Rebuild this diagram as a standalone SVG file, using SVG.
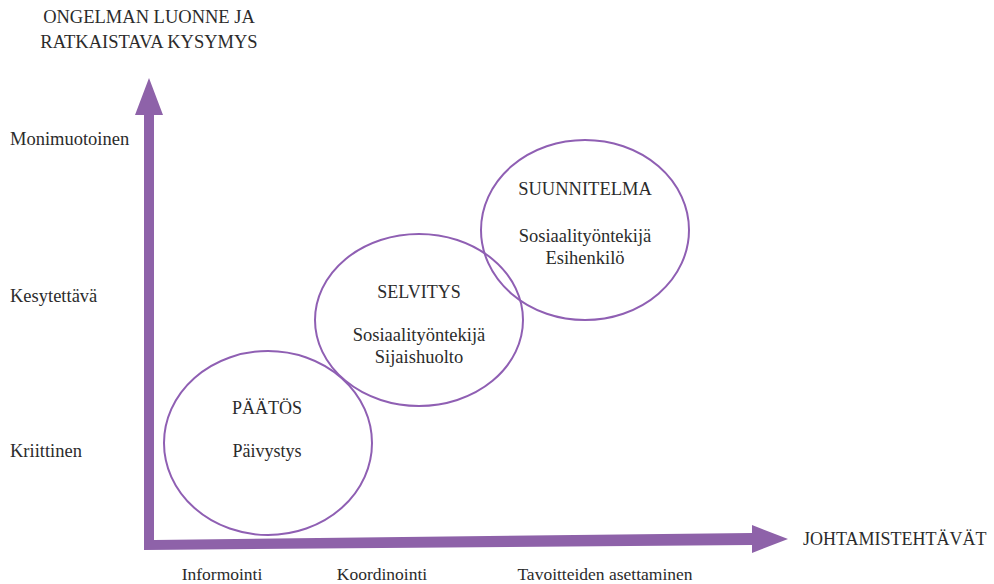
<svg xmlns="http://www.w3.org/2000/svg" width="994" height="584" viewBox="0 0 994 584">
<style>
.c{text-anchor:middle;}
.ell{fill:none;stroke:#8f5fb3;stroke-width:2;}
.ax{fill:#8e62a9;}
.s{font-family:"Liberation Serif","DejaVu Serif","Noto Serif",serif;fill:#2b2b2b;}
</style>
<rect width="994" height="584" fill="#fff"/>
<g id="axes">
<polygon class="ax" points="144,550 144,115 135,115 149,78 163,115 154,115 154,540 752,533 752,525 788,539 752,553 752,545 144,550"/>
</g>
<g class="s">
<g id="title" font-size="18.5">
<text class="c" x="149" y="23">ONGELMAN LUONNE JA</text>
<text class="c" x="149" y="48">RATKAISTAVA KYSYMYS</text>
</g>
<g id="ylabels" font-size="18.5">
<text x="10" y="145">Monimuotoinen</text>
<text x="10" y="302">Kesytettävä</text>
<text x="10" y="457">Kriittinen</text>
</g>
<g id="xlabels" font-size="17.5">
<text class="c" x="222" y="580">Informointi</text>
<text class="c" x="382" y="580">Koordinointi</text>
<text class="c" x="605" y="580">Tavoitteiden asettaminen</text>
<text x="803" y="545" font-size="18">JOHTAMISTEHTÄVÄT</text>
</g>
<g id="paatos">
<ellipse class="ell" cx="268" cy="443" rx="104" ry="92"/>
<text class="c" x="267" y="414" font-size="18">PÄÄTÖS</text>
<text class="c" x="267" y="457" font-size="18">Päivystys</text>
</g>
<g id="selvitys">
<ellipse class="ell" cx="419" cy="320" rx="104" ry="86"/>
<text class="c" x="419" y="298" font-size="18">SELVITYS</text>
<text class="c" x="419" y="341" font-size="18.5">Sosiaalityöntekijä</text>
<text class="c" x="419" y="363" font-size="18.5">Sijaishuolto</text>
</g>
<g id="suunnitelma">
<ellipse class="ell" cx="585" cy="230" rx="104" ry="90"/>
<text class="c" x="585" y="195" font-size="18.5">SUUNNITELMA</text>
<text class="c" x="585" y="242" font-size="18.5">Sosiaalityöntekijä</text>
<text class="c" x="585" y="264" font-size="18.5">Esihenkilö</text>
</g>
</g>
</svg>
